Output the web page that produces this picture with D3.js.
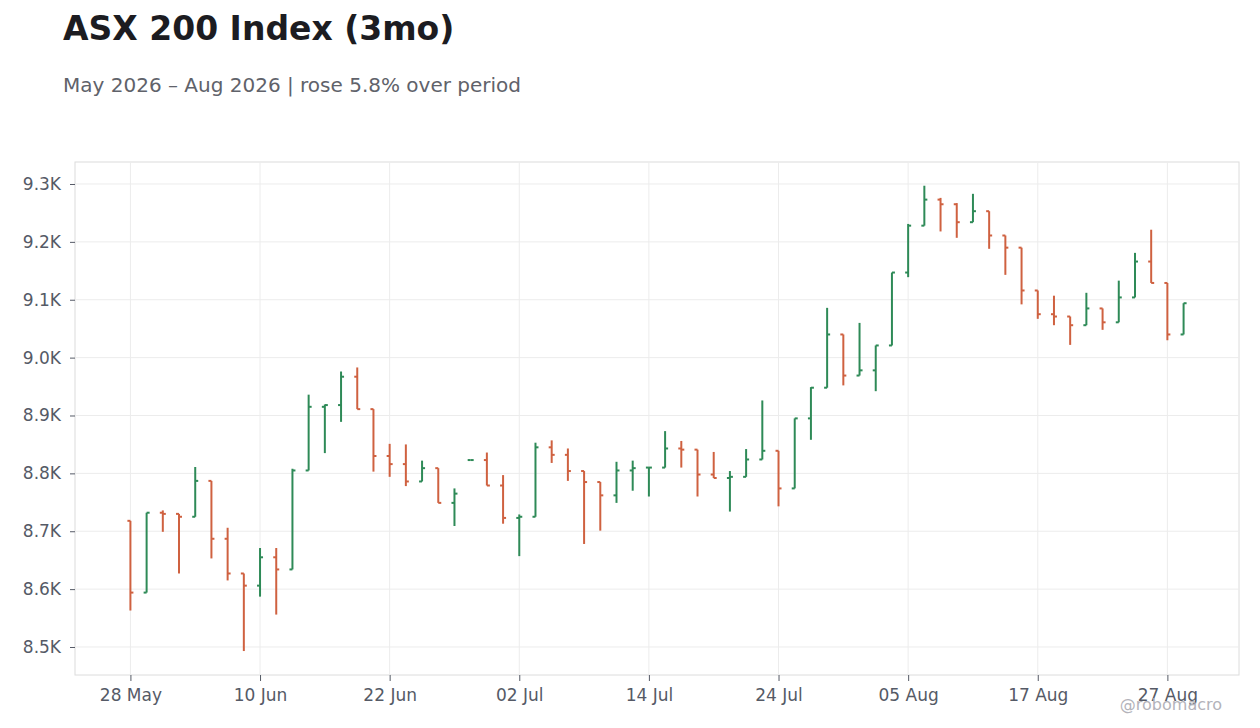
<!DOCTYPE html>
<html>
<head>
<meta charset="utf-8">
<script src="https://cdn.jsdelivr.net/npm/d3@7"></script>
<style>
  html, body { margin: 0; padding: 0; background: #ffffff; }
  svg { display: block; font-family: "DejaVu Sans", sans-serif; }
</style>
</head>
<body>
<svg id="chart" width="1260" height="728"></svg>
<script>
// ---- data ----
const dates = [
  "2026-05-28","2026-05-29","2026-06-01","2026-06-02","2026-06-03","2026-06-04","2026-06-05","2026-06-09",
  "2026-06-10","2026-06-11","2026-06-12","2026-06-15","2026-06-16","2026-06-17","2026-06-18","2026-06-19",
  "2026-06-22","2026-06-23","2026-06-24","2026-06-25","2026-06-26","2026-06-29","2026-06-30","2026-07-01",
  "2026-07-02","2026-07-03","2026-07-06","2026-07-07","2026-07-08","2026-07-09","2026-07-10","2026-07-13",
  "2026-07-14","2026-07-15","2026-07-16","2026-07-17","2026-07-20","2026-07-21","2026-07-22","2026-07-23",
  "2026-07-24","2026-07-27","2026-07-28","2026-07-29","2026-07-30","2026-07-31","2026-08-03","2026-08-04",
  "2026-08-05","2026-08-06","2026-08-07","2026-08-10","2026-08-11","2026-08-12","2026-08-13","2026-08-14",
  "2026-08-17","2026-08-18","2026-08-19","2026-08-20","2026-08-21","2026-08-24","2026-08-25","2026-08-26",
  "2026-08-27","2026-08-28"
];
const open = [8718,8594,8732,8730,8725,8787,8687,8627,8606,8655,8634,8805,8915,8918,8967,8911,
  8830,8816,8786,8809,8749,8823,8823,8779,8723,8725,8845,8832,8804,8785,8762,8805,
  8810,8810,8843,8841,8798,8792,8794,8824,8839,8774,8895,8948,9040,8969,8978,9021,
  9147,9228,9273,9265,9234,9253,9211,9190,9116,9075,9071,9056,9085,9061,9104,9166,
  9129,9040];
const high = [8718,8732,8736,8730,8811,8787,8706,8627,8671,8671,8808,8936,8919,8976,8983,8911,
  8851,8850,8822,8809,8774,8823,8836,8797,8729,8853,8857,8843,8804,8785,8820,8822,
  8810,8873,8856,8841,8837,8804,8842,8926,8839,8895,8949,9086,9040,9060,9021,9147,
  9231,9297,9276,9267,9283,9253,9211,9190,9116,9107,9071,9112,9085,9133,9181,9221,
  9129,9094];
const low = [8563,8594,8699,8627,8725,8653,8615,8493,8587,8556,8634,8805,8835,8889,8911,8803,
  8794,8778,8786,8749,8709,8823,8779,8713,8657,8725,8818,8787,8678,8701,8749,8770,
  8760,8810,8810,8760,8792,8734,8794,8824,8743,8774,8858,8948,8952,8969,8942,9021,
  9139,9228,9218,9207,9234,9188,9143,9092,9067,9056,9022,9056,9048,9061,9104,9129,
  9030,9040];
const close = [8594,8732,8730,8725,8787,8687,8627,8606,8655,8634,8805,8915,8918,8967,8911,8830,
  8816,8786,8809,8749,8765,8823,8779,8723,8725,8845,8832,8804,8785,8762,8805,8809,
  8810,8843,8841,8798,8792,8794,8824,8839,8774,8895,8948,9040,8969,8978,9021,9147,
  9228,9273,9265,9234,9253,9211,9190,9116,9075,9071,9056,9085,9061,9104,9166,9129,
  9040,9094];
const yTicks = [8500,8600,8700,8800,8900,9000,9100,9200,9300];
const xTickEvery = 8;

const titleText = "ASX 200 Index (3mo)";
const subtitleText = "May 2026 \u2013 Aug 2026 | rose 5.8% over period";
const watermark = "@robomacro";

// ---- layout ----
const W = 1260, H = 728;
const plot = { left: 75, right: 1239, top: 162, bottom: 675 };
const upColor = "#2e8a57";
const downColor = "#cf6140";
const axisText = "#555a66";

const svg = d3.select("#chart");

const x = d3.scalePoint()
  .domain(dates)
  .range([plot.left, plot.right])
  .padding(3.42);

const y = d3.scaleLinear()
  .domain([8451.6, 9338])
  .range([plot.bottom, plot.top]);

const parse = d3.timeParse("%Y-%m-%d");
const fmtDate = d3.timeFormat("%d %b");
const xTickVals = dates.filter((d, i) => i % xTickEvery === 0);

// plot background border
svg.append("rect")
  .attr("x", plot.left).attr("y", plot.top)
  .attr("width", plot.right - plot.left).attr("height", plot.bottom - plot.top)
  .attr("fill", "#ffffff").attr("stroke", "#dcdcdc").attr("stroke-width", 1);

// gridlines
const grid = svg.append("g");
grid.selectAll("line.hy").data(yTicks).join("line")
  .attr("x1", plot.left).attr("x2", plot.right)
  .attr("y1", d => y(d)).attr("y2", d => y(d))
  .attr("stroke", "#ececec").attr("stroke-width", 1);
grid.selectAll("line.vx").data(xTickVals).join("line")
  .attr("x1", d => x(d)).attr("x2", d => x(d))
  .attr("y1", plot.top).attr("y2", plot.bottom)
  .attr("stroke", "#ececec").attr("stroke-width", 1);

// axes
const yAxis = d3.axisLeft(y)
  .tickValues(yTicks)
  .tickSize(5)
  .tickPadding(9)
  .tickFormat(d => d3.format(".1f")(d / 1000) + "K");
const gy = svg.append("g").attr("transform", `translate(${plot.left},0)`).call(yAxis);
gy.select(".domain").remove();
gy.selectAll(".tick line").attr("stroke", axisText);
gy.selectAll(".tick text").attr("fill", axisText).style("font-size", "17px")
  .style("font-family", "'DejaVu Sans', sans-serif");

const xAxis = d3.axisBottom(x)
  .tickValues(xTickVals)
  .tickSize(6)
  .tickPadding(8)
  .tickFormat(d => fmtDate(parse(d)));
const gx = svg.append("g").attr("transform", `translate(0,${plot.bottom})`).call(xAxis);
gx.select(".domain").remove();
gx.selectAll(".tick line").attr("stroke", axisText);
gx.selectAll(".tick text").attr("fill", axisText).style("font-size", "17px")
  .style("font-family", "'DejaVu Sans', sans-serif");

// OHLC bars
const tickLen = 3;
const bars = svg.append("g").selectAll("g.bar").data(dates.map((d, i) => i)).join("g")
  .attr("stroke", i => close[i] >= open[i] ? upColor : downColor)
  .attr("stroke-width", 2)
  .attr("fill", "none");
bars.append("line")
  .attr("x1", i => x(dates[i])).attr("x2", i => x(dates[i]))
  .attr("y1", i => y(high[i])).attr("y2", i => y(low[i]));
bars.append("line")
  .attr("x1", i => x(dates[i]) - tickLen).attr("x2", i => x(dates[i]))
  .attr("y1", i => y(open[i])).attr("y2", i => y(open[i]));
bars.append("line")
  .attr("x1", i => x(dates[i])).attr("x2", i => x(dates[i]) + tickLen)
  .attr("y1", i => y(close[i])).attr("y2", i => y(close[i]));

// titles
svg.append("text").attr("x", 63).attr("y", 40)
  .attr("fill", "#1c1c21").style("font-size", "33px").style("font-weight", "bold")
  .text(titleText);
svg.append("text").attr("x", 63).attr("y", 92)
  .attr("fill", "#60626a").style("font-size", "20px")
  .text(subtitleText);

// watermark
svg.append("text").attr("x", 1222).attr("y", 710)
  .attr("text-anchor", "end")
  .attr("fill", "#b3b3ba").style("font-size", "16px")
  .text(watermark);
</script>
</body>
</html>
